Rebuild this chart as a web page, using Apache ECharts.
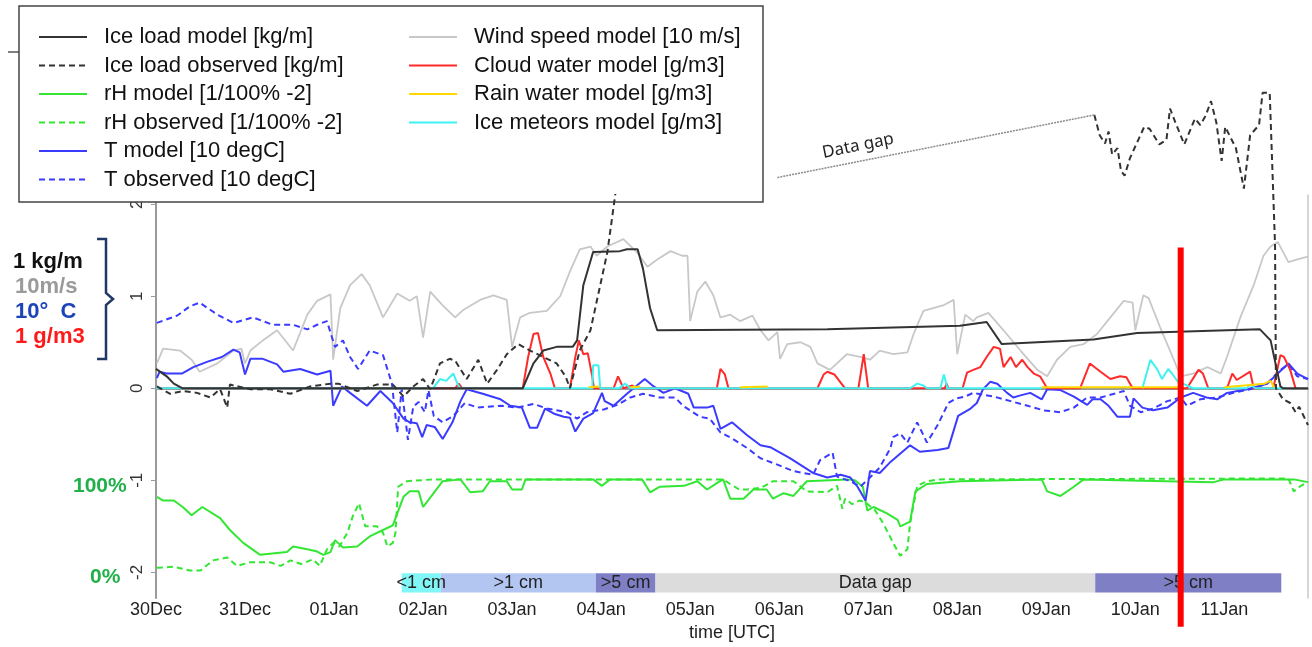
<!DOCTYPE html>
<html>
<head>
<meta charset="utf-8">
<script src="https://cdn.jsdelivr.net/npm/echarts@6/dist/echarts.min.js"></script>
<style>
  html, body { margin: 0; padding: 0; background: #fff; }
  #chart { width: 1312px; height: 647px; }
</style>
</head>
<body>
<div id="chart"></div>
<script>
// x = days since 30Dec 00:00 UTC, y = scaled value
var tickLabels = ['30Dec','31Dec','01Jan','02Jan','03Jan','04Jan','05Jan','06Jan','07Jan','08Jan','09Jan','10Jan','11Jan'];
var yTicks = [-2, -1, 0, 1, 2];

var windModel = [[0.01,0.27],[0.08,0.43],[0.27,0.41],[0.40,0.31],[0.49,0.18],[0.69,0.27],[0.87,0.41],[0.96,0.43],[1.00,0.27],[1.06,0.41],[1.20,0.52],[1.36,0.63],[1.54,0.41],[1.70,0.80],[1.81,0.95],[1.96,1.02],[1.99,0.31],[2.07,0.87],[2.18,1.12],[2.31,1.24],[2.40,1.12],[2.55,0.77],[2.71,1.03],[2.85,0.95],[2.93,1.00],[3.00,0.55],[3.08,1.05],[3.22,0.90],[3.36,0.77],[3.45,0.85],[3.64,0.96],[3.79,1.01],[3.94,0.96],[4.00,0.45],[4.09,0.77],[4.20,0.82],[4.39,0.84],[4.54,1.00],[4.65,1.27],[4.76,1.51],[4.88,1.54],[4.95,1.44],[5.07,1.54],[5.25,1.62],[5.40,1.48],[5.52,1.32],[5.63,1.40],[5.78,1.49],[5.91,1.44],[5.97,1.44],[6.00,0.73],[6.08,1.05],[6.17,1.16],[6.26,1.01],[6.34,0.77],[6.45,0.80],[6.56,0.73],[6.70,0.79],[6.79,0.63],[6.88,0.52],[6.98,0.61],[7.01,0.32],[7.09,0.48],[7.24,0.50],[7.35,0.45],[7.43,0.27],[7.57,0.20],[7.76,0.37],[7.91,0.34],[8.02,0.31],[8.13,0.41],[8.28,0.37],[8.44,0.39],[8.51,0.59],[8.62,0.84],[8.73,0.87],[8.84,0.90],[8.96,0.96],[9.00,0.37],[9.09,0.80],[9.18,0.73],[9.22,0.77],[9.35,0.82],[9.52,0.63],[9.71,0.41],[9.90,0.20],[10.01,0.13],[10.12,0.31],[10.27,0.45],[10.42,0.48],[10.57,0.59],[10.72,0.77],[10.87,0.95],[10.97,0.93],[11.00,0.63],[11.09,1.01],[11.15,0.98],[11.28,0.66],[11.39,0.41],[11.51,0.13],[11.65,0.16],[11.81,0.23],[11.96,0.16],[12.03,0.34],[12.18,0.77],[12.33,1.12],[12.44,1.44],[12.52,1.54],[12.60,1.59],[12.72,1.37],[12.82,1.40],[12.94,1.43]];

var iceModel = [[0,0.21],[0.12,0.13],[0.2,0.05],[0.3,0],[4.12,0],[4.24,0.27],[4.35,0.41],[4.5,0.45],[4.68,0.45],[4.73,0.52],[4.8,1.12],[4.91,1.48],[5.21,1.49],[5.29,1.51],[5.41,1.51],[5.47,1.30],[5.55,0.87],[5.63,0.63],[7.54,0.64],[9.03,0.68],[9.33,0.72],[9.5,0.48],[10.53,0.53],[11.02,0.60],[12.4,0.64],[12.52,0.52],[12.63,0.02],[12.66,0],[12.94,0]];

var iceObs = [[0.01,0.02],[0.16,-0.06],[0.3,-0.03],[0.46,-0.05],[0.61,-0.1],[0.72,-0.01],[0.8,-0.21],[0.83,0.04],[1.06,-0.01],[1.28,-0.01],[1.51,-0.06],[1.73,0.02],[1.96,0.05],[2.05,0.05],[2.26,-0.03],[2.48,0.04],[2.66,0.04],[2.78,-0.09],[2.89,0.02],[3.0,0.1],[3.08,-0.01],[3.19,0.27],[3.3,0.32],[3.36,0.30],[3.49,0.1],[3.62,0.31],[3.72,0.05],[3.83,0.2],[3.94,0.37],[4.07,0.48],[4.2,0.41],[4.35,0.34],[4.5,0.27],[4.6,0.13],[4.65,0],[4.76,0.41],[4.88,0.63],[4.99,1.12],[5.07,1.48],[5.12,1.83],[5.2,2.4]];

// observed ice load after the data gap (drawn above the plot area)
var iceObsLate = [[10.54,2.97],[10.60,2.75],[10.66,2.66],[10.70,2.79],[10.74,2.54],[10.80,2.61],[10.84,2.36],[10.88,2.31],[10.94,2.50],[11.10,2.84],[11.16,2.82],[11.27,2.65],[11.35,2.70],[11.39,3.04],[11.45,2.89],[11.55,2.65],[11.67,2.93],[11.73,2.86],[11.79,2.96],[11.85,3.12],[11.91,2.89],[11.97,2.47],[12.01,2.84],[12.13,2.61],[12.22,2.17],[12.29,2.75],[12.39,2.86],[12.43,3.21],[12.51,3.21],[12.57,1.55],[12.58,0.0],[12.66,-0.12],[12.74,-0.16],[12.8,-0.26],[12.84,-0.2],[12.94,-0.4]];

var gapLine = [[6.98,2.29],[10.54,2.97]];

var rhModel = [[0.01,-1.18],[0.08,-1.22],[0.2,-1.22],[0.3,-1.29],[0.4,-1.38],[0.52,-1.29],[0.72,-1.41],[0.83,-1.54],[0.98,-1.68],[1.17,-1.81],[1.36,-1.79],[1.47,-1.78],[1.54,-1.72],[1.7,-1.75],[1.8,-1.77],[1.88,-1.81],[1.96,-1.78],[2.01,-1.65],[2.1,-1.73],[2.26,-1.72],[2.4,-1.61],[2.55,-1.54],[2.66,-1.49],[2.78,-1.18],[2.85,-1.12],[2.95,-1.12],[3.0,-1.29],[3.11,-1.15],[3.22,-1.01],[3.42,-0.99],[3.53,-1.13],[3.67,-1.12],[3.75,-1.01],[3.94,-1.01],[4.0,-1.10],[4.11,-1.10],[4.15,-0.99],[4.91,-0.99],[5.01,-1.06],[5.1,-0.99],[5.46,-0.99],[5.55,-1.13],[5.66,-1.07],[5.93,-1.06],[6.08,-1.01],[6.19,-1.10],[6.3,-1.03],[6.37,-0.99],[6.45,-1.2],[6.6,-1.2],[6.71,-1.1],[6.86,-1.1],[6.93,-1.2],[7.05,-1.14],[7.16,-1.17],[7.31,-1.01],[7.76,-0.99],[7.85,-1.0],[7.94,-1.07],[7.99,-1.33],[8.06,-1.29],[8.21,-1.36],[8.33,-1.43],[8.36,-1.5],[8.47,-1.45],[8.53,-1.12],[8.66,-1.04],[9.03,-1.01],[9.95,-0.99],[10.01,-1.12],[10.16,-1.17],[10.31,-1.07],[10.42,-0.99],[11.88,-1.02],[12.0,-0.99],[12.78,-0.99],[12.94,-1.02]];

var rhObs = [[0.01,-1.95],[0.2,-1.94],[0.38,-1.98],[0.5,-1.98],[0.64,-1.87],[0.8,-1.84],[0.91,-1.93],[1.06,-1.89],[1.28,-1.89],[1.4,-1.93],[1.51,-1.87],[1.63,-1.91],[1.76,-1.86],[1.84,-1.93],[1.92,-1.75],[1.99,-1.68],[2.06,-1.72],[2.15,-1.57],[2.21,-1.39],[2.28,-1.25],[2.35,-1.5],[2.48,-1.5],[2.55,-1.57],[2.6,-1.72],[2.66,-1.68],[2.69,-1.57],[2.72,-1.07],[2.82,-1.01],[3.11,-0.99],[6.37,-0.99],[6.45,-1.04],[6.55,-1.1],[6.64,-1.1],[6.8,-1.08],[6.93,-1.01],[7.16,-1.01],[7.31,-1.12],[7.54,-1.13],[7.65,-1.06],[7.71,-1.31],[7.74,-1.2],[7.82,-1.26],[7.9,-1.22],[7.97,-1.24],[8.08,-1.33],[8.17,-1.47],[8.28,-1.68],[8.36,-1.82],[8.44,-1.75],[8.47,-1.47],[8.55,-1.06],[8.66,-1.01],[8.8,-0.99],[12.72,-0.98],[12.78,-1.12],[12.86,-1.06],[12.94,-1.02]];

var tModel = [[0.01,0.11],[0.04,0.18],[0.12,0.16],[0.29,0.16],[0.42,0.23],[0.58,0.29],[0.74,0.34],[0.87,0.42],[0.94,0.39],[1.0,0.15],[1.06,0.32],[1.2,0.32],[1.36,0.26],[1.43,0.18],[1.62,0.21],[1.81,0.15],[1.96,0.19],[1.99,-0.19],[2.09,0.02],[2.18,-0.05],[2.37,-0.19],[2.52,-0.03],[2.66,-0.16],[2.78,-0.33],[2.85,-0.37],[2.93,-0.38],[2.99,-0.53],[3.04,-0.40],[3.13,-0.42],[3.22,-0.55],[3.33,-0.37],[3.42,-0.14],[3.49,-0.01],[3.67,-0.06],[3.87,-0.12],[3.98,-0.19],[4.11,-0.21],[4.2,-0.43],[4.28,-0.43],[4.37,-0.22],[4.48,-0.28],[4.58,-0.31],[4.65,-0.32],[4.71,-0.47],[4.8,-0.33],[4.91,-0.27],[5.01,-0.05],[5.04,-0.14],[5.14,-0.19],[5.29,-0.06],[5.49,0.10],[5.59,0.02],[5.7,-0.05],[5.83,0],[5.98,-0.06],[6.04,-0.21],[6.19,-0.21],[6.26,-0.19],[6.34,-0.44],[6.47,-0.37],[6.64,-0.51],[6.79,-0.62],[6.9,-0.64],[7.12,-0.76],[7.38,-0.92],[7.54,-0.97],[7.69,-0.94],[7.8,-0.97],[7.88,-1.07],[7.97,-1.22],[8.02,-0.90],[8.13,-0.92],[8.25,-0.80],[8.47,-0.62],[8.58,-0.69],[8.78,-0.67],[8.9,-0.65],[9.01,-0.30],[9.15,-0.22],[9.22,-0.16],[9.29,-0.01],[9.37,0.07],[9.45,0.05],[9.56,-0.05],[9.63,-0.10],[9.7,-0.08],[9.82,-0.05],[9.95,-0.12],[10.01,-0.01],[10.16,-0.02],[10.31,-0.09],[10.46,-0.18],[10.52,-0.12],[10.61,-0.12],[10.7,-0.19],[10.8,-0.31],[10.94,-0.31],[10.98,-0.11],[11.08,-0.21],[11.2,-0.24],[11.36,-0.21],[11.51,-0.10],[11.65,-0.05],[11.8,-0.10],[11.92,-0.12],[12.03,-0.05],[12.26,-0.01],[12.48,0.05],[12.6,0.16],[12.72,0.27],[12.82,0.16],[12.94,0.10]];

var tObs = [[0.01,0.71],[0.24,0.79],[0.38,0.89],[0.49,0.93],[0.69,0.80],[0.87,0.71],[1.09,0.77],[1.31,0.69],[1.54,0.69],[1.70,0.64],[1.81,0.69],[1.92,0.73],[2.01,0.45],[2.10,0.52],[2.18,0.34],[2.27,0.21],[2.40,0.41],[2.55,0.36],[2.65,0.05],[2.71,-0.48],[2.76,-0.01],[2.83,-0.56],[2.89,-0.20],[2.95,-0.15],[3.02,-0.26],[3.06,-0.02],[3.12,-0.30],[3.22,-0.37],[3.34,-0.30],[3.47,-0.16],[3.61,-0.21],[3.87,-0.19],[4.06,-0.21],[4.24,-0.17],[4.39,-0.22],[4.62,-0.26],[4.73,-0.33],[4.84,-0.26],[5.03,-0.23],[5.18,-0.18],[5.33,-0.10],[5.47,-0.06],[5.66,-0.10],[5.83,-0.10],[5.92,-0.19],[6.11,-0.31],[6.22,-0.33],[6.34,-0.48],[6.48,-0.55],[6.64,-0.65],[6.79,-0.76],[6.98,-0.83],[7.16,-0.90],[7.38,-0.94],[7.46,-0.78],[7.60,-0.70],[7.65,-0.96],[7.80,-1.01],[7.91,-1.07],[8.02,-0.97],[8.13,-0.86],[8.25,-0.65],[8.28,-0.53],[8.36,-0.49],[8.44,-0.59],[8.55,-0.37],[8.66,-0.59],[8.78,-0.40],[8.90,-0.16],[8.99,-0.11],[9.09,-0.09],[9.18,-0.05],[9.41,-0.09],[9.60,-0.14],[9.79,-0.19],[9.97,-0.24],[10.16,-0.26],[10.31,-0.21],[10.46,-0.10],[10.61,-0.10],[10.80,-0.05],[10.87,-0.03],[10.94,-0.19],[11.06,-0.26],[11.20,-0.22],[11.36,-0.14],[11.51,-0.10],[11.58,-0.19],[11.73,-0.12],[11.92,-0.10],[12.10,-0.05],[12.29,-0.01],[12.48,0.05],[12.63,0.20],[12.72,0.26],[12.82,0.13],[12.94,0.10]];

var cloudModel = [[0,0],[3.36,0],[3.4,0.05],[3.44,0],[4.12,0],[4.18,0.34],[4.24,0.59],[4.29,0.6],[4.35,0.34],[4.43,0.16],[4.48,0],[4.65,0],[4.71,0.34],[4.75,0.52],[4.8,0.37],[4.85,0.38],[4.9,0.13],[4.92,0],[5.14,0],[5.19,0.13],[5.25,0],[5.35,0.03],[5.4,0],[6.3,0],[6.34,0.21],[6.39,0.15],[6.43,0],[7.43,0],[7.5,0.15],[7.54,0.18],[7.62,0.15],[7.74,0],[7.89,0],[7.95,0.37],[8.0,0],[8.86,0],[8.88,0.05],[8.9,0],[9.06,0],[9.11,0.17],[9.18,0.2],[9.26,0.23],[9.33,0.34],[9.41,0.45],[9.48,0.43],[9.52,0.23],[9.6,0.34],[9.66,0.23],[9.73,0.31],[9.79,0.23],[9.86,0.16],[9.93,0.13],[10.01,0],[10.38,0],[10.49,0.27],[10.61,0.18],[10.72,0.1],[10.83,0.13],[10.9,0.12],[10.97,0],[11.58,0],[11.71,0.2],[11.76,0.16],[11.82,0],[12.03,0],[12.09,0.16],[12.14,0.09],[12.29,0.18],[12.33,0],[12.55,0],[12.63,0.36],[12.67,0.34],[12.74,0.2],[12.8,0]];

var rainModel = [[4.86,0.01],[4.98,0.02],[5.0,null],[5.33,0.01],[5.44,0.02],[5.46,null],[6.56,0.01],[6.87,0.02],[6.9,null],[9.95,0.01],[11.5,0.01],[11.52,null],[12.0,0.01],[12.45,0.05],[12.52,0.08],[12.56,0.01],[12.6,null]];

var iceMeteors = [[0,0],[3.11,0],[3.19,0.1],[3.26,0.08],[3.34,0.16],[3.39,0.04],[3.42,0],[4.9,0],[4.91,0.25],[4.97,0.25],[4.99,0],[5.2,0],[5.27,0.05],[5.33,0],[8.47,0],[8.55,0.05],[8.62,0.03],[8.66,0],[8.81,0],[8.85,0.15],[8.89,0],[9.95,0],[9.96,null],[11.08,0],[11.17,0.31],[11.25,0.2],[11.3,0.1],[11.37,0.21],[11.42,0.15],[11.48,0.07],[11.56,0.04],[11.65,0],[12.25,0],[12.29,0.04],[12.35,0],[12.7,0]];

// snow depth bands along the bottom
var bandStart = [2.76, 3.20, 4.94, 5.61, 10.55];
var bandEnd = [3.20, 4.94, 5.61, 10.55, 12.64];
var bandLabels = ['<1 cm', '>1 cm', '>5 cm', 'Data gap', '>5 cm'];
var bandTop = -2.01, bandBottom = -2.22;

var markerDay = 11.51;
var markerSpan = [1.53, -2.59];

var bandColors = ['#80f6f6', '#b3c6f2', '#7f7fc6', '#dcdcdc', '#7f7fc6'];

var chart = echarts.init(document.getElementById('chart'));

var font = 'Liberation Sans, Arial, sans-serif';
var dash = [6, 4];

function lineSeries(name, data, color, type, extra) {
  var s = {
    name: name, type: 'line', data: data, symbol: 'none',
    lineStyle: { color: color, width: 2, type: type || 'solid' },
    itemStyle: { color: color },
    connectNulls: false
  };
  for (var k in extra) s[k] = extra[k];
  return s;
}

var markers = [];
for (var i = 0; i < bandStart.length; i++) {
  markers.push([
    { name: bandLabels[i], xAxis: bandStart[i], yAxis: bandTop, itemStyle: { color: bandColors[i], opacity: 1 } },
    { xAxis: bandEnd[i], yAxis: bandBottom }
  ]);
}

var legendLeft = ['Ice load model [kg/m]', 'Ice load observed [kg/m]', 'rH model [1/100% -2]', 'rH observed [1/100% -2]', 'T model [10 degC]', 'T observed [10 degC]'];
var legendRight = ['Wind speed model [10 m/s]', 'Cloud water model [g/m3]', 'Rain water model [g/m3]', 'Ice meteors model [g/m3]'];

var legendBase = {
  orient: 'vertical', itemWidth: 48, itemHeight: 14, itemGap: 6.5,
  selectedMode: false,
  itemStyle: { opacity: 0 },
  textStyle: { fontSize: 22, lineHeight: 22, color: '#111', fontFamily: font, padding: [0, 0, 0, 12] }
};

var option = {
  animation: false,
  backgroundColor: '#fff',
  grid: { left: 156, right: 4, top: 195, bottom: 41 },
  legend: [
    Object.assign({ data: legendLeft, left: 33, top: 21 }, legendBase),
    Object.assign({ data: legendRight, left: 403, top: 21 }, legendBase)
  ],
  xAxis: {
    type: 'value', min: 0, max: 12.94, interval: 1,
    name: 'time [UTC]', nameLocation: 'middle', nameGap: 20,
    nameTextStyle: { fontSize: 18, color: '#222', fontFamily: font },
    axisLine: { lineStyle: { color: '#9a9a9a', width: 2 } },
    axisTick: { show: false },
    splitLine: { show: false },
    axisLabel: {
      margin: 3, fontSize: 18, color: '#222', fontFamily: font,
      formatter: function (v) { return tickLabels[Math.round(v)] || ''; }
    }
  },
  yAxis: [{
    type: 'value', min: -2.28, max: 2.1,
    axisLine: { show: true, lineStyle: { color: '#9a9a9a', width: 2 } },
    axisTick: { show: true, length: 5, lineStyle: { color: '#9a9a9a' }, customValues: yTicks },
    splitLine: { show: false },
    axisLabel: { rotate: 90, margin: 10, fontSize: 17, color: '#333', fontFamily: font, customValues: yTicks }
  }, {
    type: 'value', min: -2.28, max: 2.1, position: 'right',
    axisLine: { show: true, lineStyle: { color: '#c8c8c8', width: 1.5 } },
    axisTick: { show: false }, axisLabel: { show: false }, splitLine: { show: false }
  }],
  series: [
    { name: 'bands', type: 'line', data: [], silent: true,
      markArea: { silent: true, label: { position: 'inside', fontSize: 18, color: '#222', fontFamily: font }, data: markers } },
    lineSeries('Wind speed model [10 m/s]', windModel, '#c8c8c8', 'solid', { lineStyle: { color: '#c8c8c8', width: 1.8 } }),
    lineSeries('rH observed [1/100% -2]', rhObs, '#33e633', dash),
    lineSeries('rH model [1/100% -2]', rhModel, '#33e633'),
    lineSeries('T observed [10 degC]', tObs, '#3b3bff', dash),
    lineSeries('T model [10 degC]', tModel, '#3b3bff'),
    lineSeries('Cloud water model [g/m3]', cloudModel, '#ff2a2a'),
    lineSeries('Ice meteors model [g/m3]', iceMeteors, '#3ff2f2'),
    lineSeries('Rain water model [g/m3]', rainModel, '#ffd800'),
    lineSeries('Ice load observed [kg/m]', iceObs, '#333', dash),
    lineSeries('late obs', iceObsLate, '#333', dash, { clip: false }),
    lineSeries('gap', gapLine, '#8a8a8a', [2, 1], { clip: false, lineStyle: { color: '#8a8a8a', width: 1.5, type: [2, 1] } }),
    lineSeries('Ice load model [kg/m]', iceModel, '#333'),
    lineSeries('marker', [[markerDay, markerSpan[0]], [markerDay, markerSpan[1]]], '#ff0000', 'solid',
      { clip: false, z: 5, lineStyle: { color: '#ff0000', width: 6 } })
  ],
  graphic: [
    { type: 'rect', z: 3, shape: { x: 19, y: 6, width: 744, height: 196 },
      style: { fill: '#fff', stroke: '#444', lineWidth: 1.5 } },
    { type: 'line', shape: { x1: 8, y1: 52, x2: 19, y2: 52 }, style: { stroke: '#555', lineWidth: 1.5 } },
    { type: 'text', left: 13, top: 251, style: { text: '1 kg/m', fill: '#111', font: 'bold 22px ' + font } },
    { type: 'text', left: 15, top: 276, style: { text: '10m/s', fill: '#9a9a9a', font: 'bold 22px ' + font } },
    { type: 'text', left: 15, top: 301, style: { text: '10°  C', fill: '#1a44b8', font: 'bold 22px ' + font } },
    { type: 'text', left: 15, top: 326, style: { text: '1 g/m3', fill: '#ff1a1a', font: 'bold 22px ' + font } },
    { type: 'polyline', shape: { points: [[97, 239], [106, 239], [106, 293], [113, 299], [106, 305], [106, 359], [97, 359]] },
      style: { stroke: '#1f3864', lineWidth: 2.5, fill: null } },
    { type: 'text', left: 73, top: 476, style: { text: '100%', fill: '#22b04a', font: 'bold 21px ' + font } },
    { type: 'text', left: 90, top: 567, style: { text: '0%', fill: '#22b04a', font: 'bold 21px ' + font } },
    { type: 'text', x: 858, y: 146, rotation: 0.2,
      style: { text: 'Data gap', fill: '#222', font: '17px Noto Sans, sans-serif', align: 'center', verticalAlign: 'middle' } }
  ]
};

chart.setOption(option);
</script>
</body>
</html>
